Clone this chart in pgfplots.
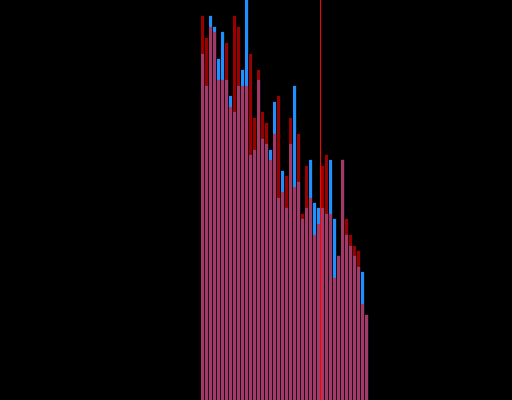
\documentclass[border=0pt]{standalone}
\usepackage{pgfplots}
\pgfplotsset{compat=1.18}
\usepackage{pgfplotstable}
\definecolor{bblue}{RGB}{30,144,255}
\pgfplotstableread{
x R B
202.5 384 346
206.5 362 314
210.5 373 384
214.5 368 373
218.5 320 341
222.5 320 368
226.5 357 320
230.5 293 304
234.5 384 288
238.5 373 314
242.5 314 330
246.5 314 420
250.5 346 245
254.5 282 250
258.5 330 320
262.5 288 261
266.5 277 256
270.5 240 250
274.5 266 298
278.5 304 202
282.5 208 229
286.5 224 192
290.5 282 256
294.5 213 314
298.5 266 218
302.5 186 181
306.5 234 192
310.5 202 240
314.5 165 197
318.5 176 192
322.5 234 192
326.5 245 186
330.5 186 240
334.5 122 181
338.5 144 144
342.5 240 240
346.5 181 165
350.5 165 154
354.5 154 144
358.5 149 133
362.5 96 128
366.5 85 85
}\data
\begin{document}
\begin{tikzpicture}
\begin{axis}[
  width=368.64pt, height=288pt, scale only axis,
  xmin=0, xmax=512, ymin=0, ymax=400,
  axis line style={draw=none},
  xtick=\empty, ytick=\empty,
  axis background/.style={fill=black},
  clip=true,
  bar shift=0pt,
]
\addplot[ybar, bar width=3, fill=bblue, draw=none] table[x=x, y=B] {\data};
\addplot[ybar, bar width=3, fill=red, fill opacity=0.6, draw=none] table[x=x, y=R] {\data};
\addplot[red, line width=1pt] coordinates {(320.5,0) (320.5,400)};
\end{axis}
\end{tikzpicture}
\end{document}
